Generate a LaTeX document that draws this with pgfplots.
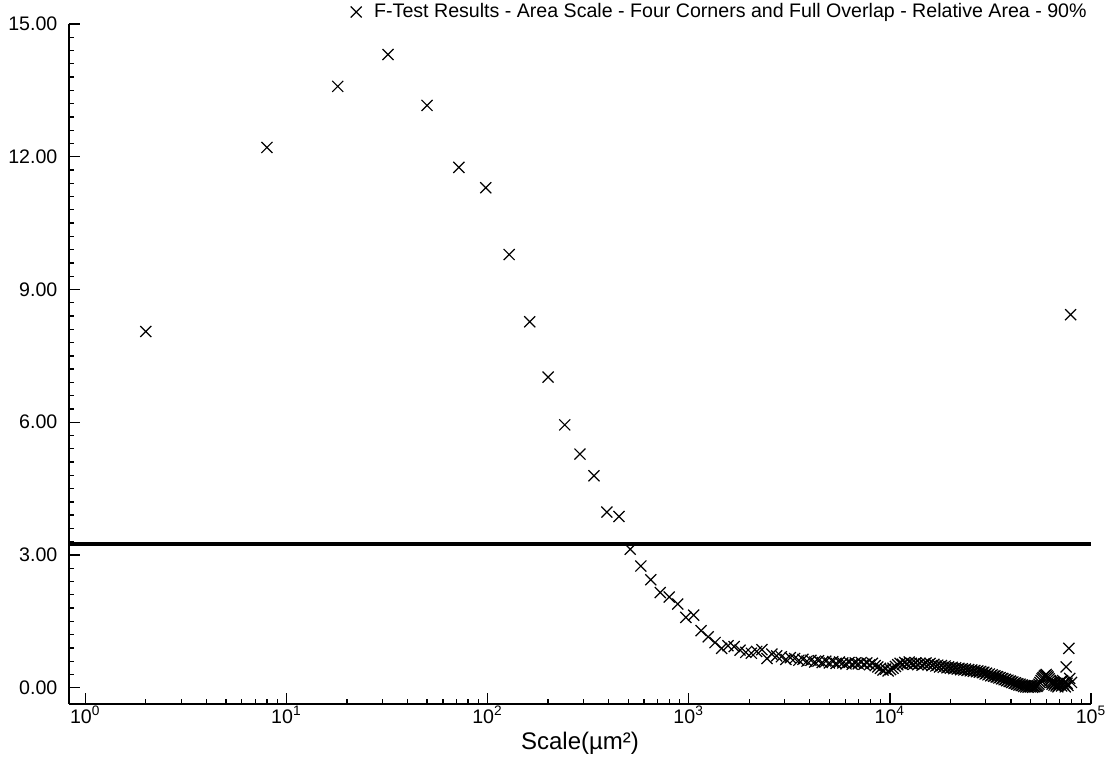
\documentclass[border=0pt]{standalone}
\usepackage{fontspec}
\setmainfont{Liberation Sans}
\usepackage{pgfplots}
\usepackage{pgfplotstable}
\pgfplotsset{compat=1.18}
\pgfplotstableread{
x y
2 8.05
8 12.21
18 13.59
32 14.31
50 13.16
72 11.76
98 11.30
128 9.79
162 8.27
200 7.02
242 5.94
288 5.28
338 4.79
392 3.97
450 3.87
512 3.13
578 2.75
648 2.44
722 2.15
800 2.05
882 1.89
968 1.59
1058 1.64
1152 1.29
1250 1.15
1352 1.02
1458 0.89
1568 0.95
1682 0.93
1800 0.85
1922 0.80
2048 0.78
2178 0.82
2312 0.86
2450 0.66
2592 0.76
2738 0.72
2888 0.70
3042 0.64
3200 0.68
3362 0.66
3528 0.62
3698 0.64
3872 0.60
4050 0.62
4232 0.58
4418 0.61
4608 0.57
4802 0.60
5000 0.56
5202 0.59
5408 0.55
5618 0.58
5832 0.56
6050 0.54
6272 0.57
6498 0.53
6728 0.56
6962 0.54
7200 0.57
7442 0.53
7688 0.56
7938 0.52
8192 0.55
8450 0.50
8712 0.47
8978 0.44
9248 0.40
9522 0.42
9800 0.38
10082 0.41
10368 0.44
10658 0.48
10952 0.52
11250 0.55
11552 0.53
11858 0.57
12168 0.54
12482 0.58
12800 0.55
13122 0.53
13448 0.56
13778 0.52
14112 0.55
14450 0.51
14792 0.54
15138 0.56
15488 0.52
15842 0.55
16200 0.50
16562 0.53
16928 0.49
17298 0.51
17672 0.47
18050 0.50
18432 0.46
18818 0.49
19208 0.45
19602 0.47
20000 0.44
20402 0.46
20808 0.43
21218 0.45
21632 0.42
22050 0.44
22472 0.41
22898 0.43
23328 0.40
23762 0.42
24200 0.39
24642 0.41
25088 0.38
25538 0.40
25992 0.37
26450 0.39
26912 0.36
27378 0.38
27848 0.35
28322 0.37
28800 0.34
29282 0.35
29768 0.31
30258 0.33
30752 0.29
31250 0.31
31752 0.27
32258 0.29
32768 0.26
33282 0.27
33800 0.24
34322 0.25
34848 0.22
35378 0.23
35912 0.20
36450 0.21
36992 0.18
37538 0.19
38088 0.16
38642 0.17
39200 0.14
39762 0.15
40328 0.12
40898 0.13
41472 0.10
42050 0.11
42632 0.08
43218 0.09
43808 0.06
44402 0.08
45000 0.05
45602 0.06
46208 0.03
46818 0.05
47432 0.02
48050 0.04
48672 0.01
49298 0.03
49928 0.02
50562 0.04
51200 0.01
51842 0.03
52488 0.02
53138 0.04
53792 0.03
54450 0.05
55112 0.08
55778 0.12
56448 0.16
57122 0.20
57800 0.23
58482 0.26
59168 0.28
59858 0.30
60552 0.27
61250 0.24
61952 0.20
62658 0.16
63368 0.12
64082 0.08
64800 0.12
65522 0.06
66248 0.10
66978 0.04
67712 0.08
68450 0.02
69192 0.06
69938 0.10
70688 0.14
71442 0.04
72200 0.16
72962 0.08
73728 0.12
74498 0.02
75272 0.47
76050 0.10
76832 0.05
77618 0.89
78408 0.21
79202 8.43
80000 0.12
}\ftest
\begin{document}
\begin{tikzpicture}
\path[use as bounding box] (-34.5pt,-28.5pt) rectangle (520.5pt,352pt);
\begin{axis}[
  at={(0,0)}, anchor=south west,
  scale only axis, width=511pt, height=340pt,
  xmode=log, xmin=0.83, xmax=1e5, ymin=-0.368, ymax=15,
  axis x line*=bottom, axis y line*=left,
  x axis line style={-}, y axis line style={-},
  axis line style={line width=0.65pt},
  tick style={line width=0.65pt, black},
  tick align=inside,
  major tick length=5.5pt, minor tick length=2.5pt,
  xtick={1,10,100,1000,10000,100000},
  xticklabels={10\textsuperscript{0},10\textsuperscript{1},10\textsuperscript{2},10\textsuperscript{3},10\textsuperscript{4},10\textsuperscript{5}},
  minor xtick={2,3,4,5,6,7,8,9,20,30,40,50,60,70,80,90,200,300,400,500,600,700,800,900,2000,3000,4000,5000,6000,7000,8000,9000,20000,30000,40000,50000,60000,70000,80000,90000},
  ytick={0,3,6,9,12,15},
  minor y tick num=9,
  /pgf/number format/fixed, /pgf/number format/zerofill,
  /pgf/number format/precision=2, /pgf/number format/assume math mode=true,
  ticklabel style={font=\fontsize{9.8}{11}\selectfont},
  yticklabel style={xshift=-2.3pt},
  xticklabel style={inner sep=1pt},
  xlabel={Scale(µm²)},
  xlabel style={font=\fontsize{12}{14}\selectfont, at={(axis description cs:0.5,0)}, anchor=base, yshift=-23pt},
  legend style={draw=none, fill=none, at={(rel axis cs:1,1)}, anchor=east, yshift=6pt, xshift=0pt, font=\fontsize{9.8}{11}\selectfont, inner sep=0pt},
  legend cell align=left,
]
\addplot[only marks, mark=x, mark size=3.9pt, mark options={line width=0.6pt, black},
  legend image code/.code={\path[draw=none] (-2.8pt,0pt) rectangle (7pt,0.1pt); \path[draw=none, mark=x, mark size=3.9pt, mark options={draw=black, line width=0.6pt}] plot coordinates {(0pt,0pt)};}] table[x=x, y=y] {\ftest};
\addlegendentry{F-Test Results - Area Scale - Four Corners and Full Overlap - Relative Area - 90\%}
\addplot[black, line width=2pt, forget plot] coordinates {(0.83,3.24) (100000,3.24)};
\end{axis}
\end{tikzpicture}
\end{document}
